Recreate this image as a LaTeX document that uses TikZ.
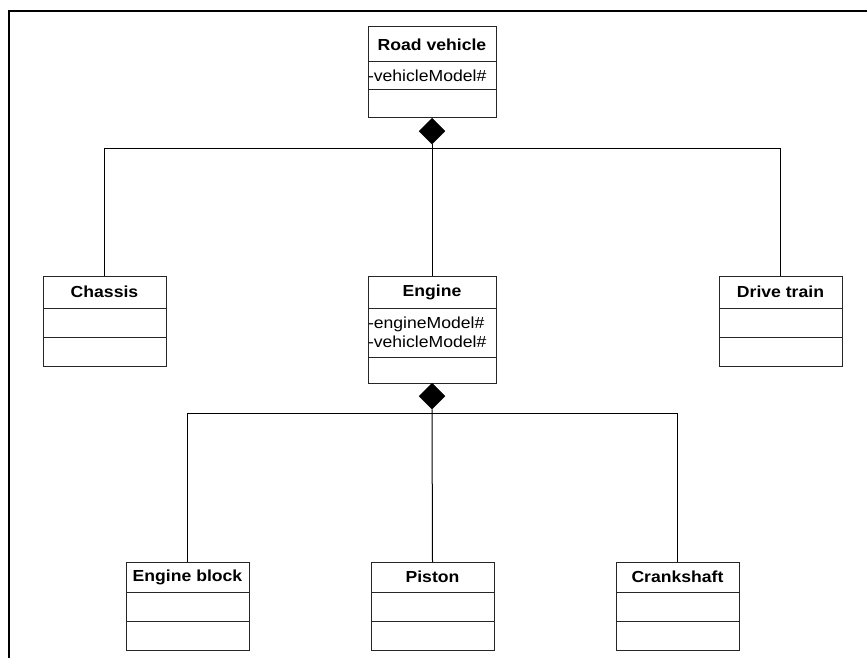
\documentclass[tikz,border=0pt]{standalone}
\usepackage{fontspec}
\setmainfont[FakeStretch=1.1]{Liberation Sans}
\usetikzlibrary{shapes.geometric}
\begin{document}
\begin{tikzpicture}[x=1pt,y=-1pt,
  font=\fontsize{16}{19}\selectfont,
  part/.style={draw=black!85, line width=1pt, inner sep=0pt, outer sep=0pt},
  cname/.style={part, anchor=north west, font=\fontsize{16}{19}\selectfont\bfseries},
  cpart/.style={part, anchor=north, text width=#1, align=left},
  comp/.style={diamond, fill=black, draw=black, inner sep=0pt, minimum width=26, minimum height=26, anchor=north},
  link/.style={draw=black, line width=1pt}
]
\useasboundingbox (0,0) rectangle (867,658);
\fill[white] (0,0) rectangle (867,658);
% outer frame
\draw[line width=2pt] (9,658) -- (9,11) -- (867,11);

% Road vehicle
\node[cname, minimum width=128, minimum height=35] (rv) at (368,27) {Road vehicle};
\node[cpart=128, minimum height=28] (rva) at (rv.south) {-vehicleModel\#};
\node[cpart=128, minimum height=28] (rvo) at (rva.south) {};
\node[comp] (d1) at (rvo.south) {};

% second level
\node[cname, minimum width=123, minimum height=32] (ch) at (43,276) {Chassis};
\node[cpart=123, minimum height=29] (cha) at (ch.south) {};
\node[cpart=123, minimum height=29] (cho) at (cha.south) {};

\node[cname, minimum width=128, minimum height=32] (en) at (368,276) {Engine};
\node[cpart=128, minimum height=49] (ena) at (en.south) {-engineModel\#\\-vehicleModel\#};
\node[cpart=128, minimum height=26] (eno) at (ena.south) {};
\node[comp] (d2) at (eno.south) {};

\node[cname, minimum width=123, minimum height=32] (dt) at (719,276) {Drive train};
\node[cpart=123, minimum height=29] (dta) at (dt.south) {};
\node[cpart=123, minimum height=29] (dto) at (dta.south) {};

% third level
\node[cname, minimum width=123, minimum height=30] (eb) at (126,562) {Engine block};
\node[cpart=123, minimum height=29] (eba) at (eb.south) {};
\node[cpart=123, minimum height=29] (ebo) at (eba.south) {};

\node[cname, minimum width=123, minimum height=30] (pi) at (371,562) {Piston};
\node[cpart=123, minimum height=29] (pia) at (pi.south) {};
\node[cpart=123, minimum height=29] (pio) at (pia.south) {};

\node[cname, minimum width=123, minimum height=30] (cs) at (616,562) {Crankshaft};
\node[cpart=123, minimum height=29] (csa) at (cs.south) {};
\node[cpart=123, minimum height=29] (cso) at (csa.south) {};

% composition links
\coordinate (j1) at (432,148);
\coordinate (j2) at (432,413);
\draw[link] (d1.south) -- (en.north);
\draw[link] (ch.north) -- (ch.north |- j1) -- (dt.north |- j1) -- (dt.north);
\draw[link] (d2.south) -- (pi.north);
\draw[link] (eb.north) -- (eb.north |- j2) -- (cs.north |- j2) -- (cs.north);
\end{tikzpicture}
\end{document}
